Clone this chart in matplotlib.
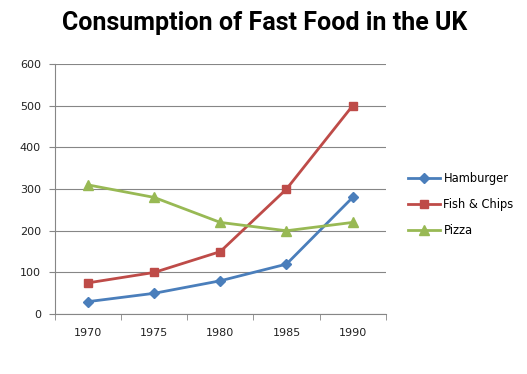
import matplotlib
matplotlib.use("Agg")
import matplotlib.pyplot as plt
from matplotlib.ticker import FixedLocator

years = ["1970", "1975", "1980", "1985", "1990"]
hamburger = [30, 50, 80, 120, 280]
fish_chips = [75, 100, 150, 300, 500]
pizza = [310, 280, 220, 200, 220]
y_ticks = [0, 100, 200, 300, 400, 500, 600]

fig = plt.figure(figsize=(5.27, 3.74), dpi=100)
ax = fig.add_axes([0.104, 0.160, 0.628, 0.669])

x = list(range(len(years)))
ax.plot(x, hamburger, color="#4A7EBB", lw=2, marker="D", ms=5.5, label="Hamburger")
ax.plot(x, fish_chips, color="#BE4B48", lw=2, marker="s", ms=6, label="Fish & Chips")
ax.plot(x, pizza, color="#98B954", lw=2, marker="^", ms=7, label="Pizza")

ax.set_xlim(-0.5, 4.5)
ax.set_ylim(0, 600)
ax.set_yticks(y_ticks)
ax.set_xticks(x)
ax.set_xticklabels(years)
ax.xaxis.set_minor_locator(FixedLocator([i - 0.5 for i in range(len(years) + 1)]))
ax.tick_params(axis="x", which="major", length=0, pad=10, labelsize=8, labelcolor="#222222")
ax.tick_params(axis="x", which="minor", length=4, color="#868686")
ax.tick_params(axis="y", length=4, color="#868686", labelsize=8, labelcolor="#222222", pad=6)
ax.grid(axis="y", color="#868686", lw=0.8)
ax.set_axisbelow(True)
for s in ["top", "right"]:
    ax.spines[s].set_visible(False)
for s in ["left", "bottom"]:
    ax.spines[s].set_color("#868686")

fig.suptitle("Consumption of Fast Food in the UK", x=0.503, y=0.97,
             fontsize=18, fontweight="bold", family="Roboto")

ax.legend(loc="center left", bbox_to_anchor=(1.035, 0.438), frameon=False,
          fontsize=8.3, handlelength=2.8, labelspacing=1.15, handletextpad=0.3)

fig.savefig("out.png", dpi=100)
